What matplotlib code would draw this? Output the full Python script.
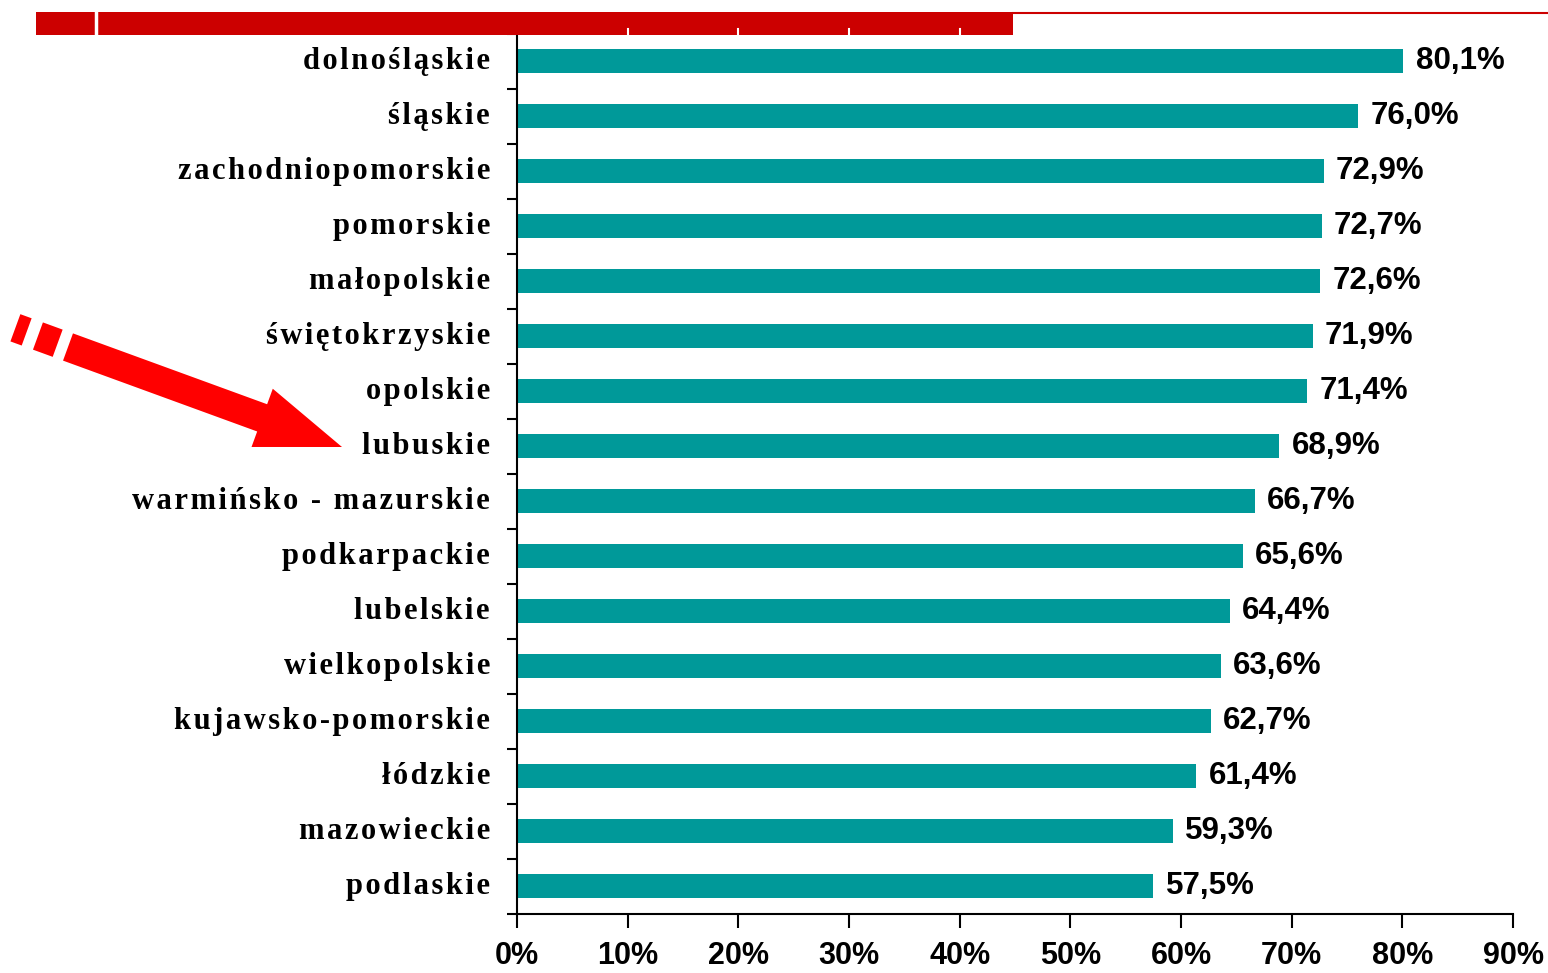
import numpy as np
import matplotlib
matplotlib.use('Agg')
import matplotlib.pyplot as plt
import matplotlib.transforms as mtransforms
from matplotlib.patches import Polygon, Rectangle

regions = ["dolnośląskie", "śląskie", "zachodniopomorskie", "pomorskie",
           "małopolskie", "świętokrzyskie", "opolskie", "lubuskie",
           "warmińsko - mazurskie", "podkarpackie", "lubelskie",
           "wielkopolskie", "kujawsko-pomorskie", "łódzkie", "mazowieckie",
           "podlaskie"]
values = [80.1, 76.0, 72.9, 72.7, 72.6, 71.9, 71.4, 68.9, 66.7, 65.6,
          64.4, 63.6, 62.7, 61.4, 59.3, 57.5]
x_ticks = [0, 10, 20, 30, 40, 50, 60, 70, 80, 90]

TEAL = "#009999"
DARK_RED = "#CC0000"
RED = "#FF0000"

W, H = 1548, 973
fig = plt.figure(figsize=(W / 100, H / 100), dpi=100)
fig.patch.set_facecolor("white")

ax = fig.add_axes([517 / W, 59.5 / H, (1513 - 517) / W, (939.5 - 59.5) / H])
y = np.arange(len(regions))
ax.barh(y, values, height=0.45, color=TEAL, zorder=2)
ax.set_ylim(len(regions) - 0.5, -0.5)
ax.set_xlim(0, 90)

# value labels
for yi, v in zip(y, values):
    ax.text(v + 1.1, yi, f"{v:.1f}%".replace(".", ","), va="center", ha="left",
            fontsize=22.5, fontweight="bold", family=["Liberation Sans", "DejaVu Sans"])

# y labels with letter spacing (hair spaces between letters)
spaced = ["\u200a".join(list(r)) for r in regions]
ax.set_yticks(y)
ax.set_yticklabels(spaced, fontsize=22, fontweight="bold",
                   family=["Liberation Serif", "DejaVu Serif"])
ax.set_yticks(np.arange(-0.5, len(regions), 1.0), minor=True)
ax.tick_params(axis="y", which="major", length=0, pad=19.5)
ax.tick_params(axis="y", which="minor", length=7, width=1.5, direction="out")
shift = mtransforms.ScaledTranslation(0, 3 / 100, fig.dpi_scale_trans)
for lab in ax.get_yticklabels():
    lab.set_transform(lab.get_transform() + shift)

ax.set_xticks(x_ticks)
ax.set_xticklabels([f"{t}%" for t in x_ticks], fontsize=22, fontweight="bold",
                   family=["Liberation Sans", "DejaVu Sans"])
ax.tick_params(axis="x", which="major", length=10, width=1.5, direction="out", pad=10)

for s in ["top", "right"]:
    ax.spines[s].set_visible(False)
ax.spines["left"].set_linewidth(1.5)
ax.spines["bottom"].set_linewidth(1.5)

# overlay in pixel coordinates for decorations
ov = fig.add_axes([0, 0, 1, 1], zorder=5)
ov.set_xlim(0, W)
ov.set_ylim(H, 0)
ov.axis("off")
ov.patch.set_alpha(0)

# top banner
ov.add_patch(Rectangle((36, 12), 977, 23, color=DARK_RED, lw=0))
ov.plot([1013, W], [12.5, 12.5], color=DARK_RED, lw=1.5)
ov.plot([96, 96], [12, 35], color="white", lw=2.5)
for xt in x_ticks[1:5]:
    xp = 517 + xt * (1513 - 517) / 90
    ov.plot([xp, xp], [29, 35], color="white", lw=1.5)

# arrow
start = np.array([68.0, 347.0])
tip = np.array([342.0, 447.0])
u = (tip - start) / np.linalg.norm(tip - start)
n = np.array([-u[1], u[0]])
L = np.linalg.norm(tip - start)
hw, hl, hh = 14.5, 85, 31


def seg(a, b):
    return [start + u * a + n * hw, start + u * b + n * hw,
            start + u * b - n * hw, start + u * a - n * hw]


arrow_pts = [start + n * hw, start + u * (L - hl) + n * hw,
             start + u * (L - hl) + n * hh, tip,
             start + u * (L - hl) - n * hh, start + u * (L - hl) - n * hw,
             start - n * hw]
ov.add_patch(Polygon(arrow_pts, closed=True, color=RED, lw=0))
ov.add_patch(Polygon(seg(-32, -11), closed=True, color=RED, lw=0))
ov.add_patch(Polygon(seg(-56, -44), closed=True, color=RED, lw=0))

fig.savefig("out.png", dpi=100)
